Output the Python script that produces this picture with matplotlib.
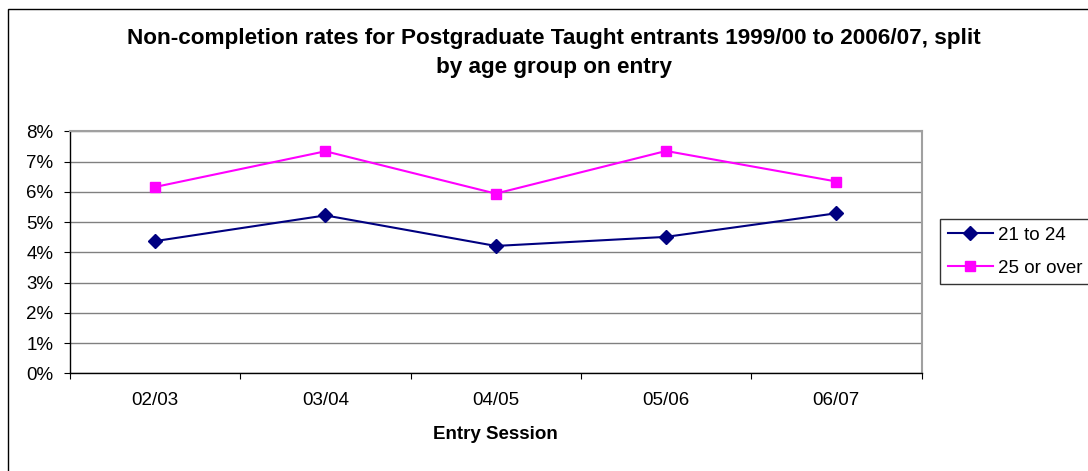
import matplotlib
matplotlib.use("Agg")
import matplotlib.pyplot as plt
from matplotlib.patches import Rectangle
from matplotlib.ticker import FixedLocator, NullFormatter, PercentFormatter

plt.rcParams['font.family'] = ['Liberation Sans', 'DejaVu Sans']

categories = ["02/03", "03/04", "04/05", "05/06", "06/07"]
age_21_24 = [4.37, 5.22, 4.21, 4.51, 5.29]
age_25_over = [6.16, 7.34, 5.94, 7.35, 6.34]
series_names = ["21 to 24", "25 or over"]
title_lines = ["Non-completion rates for Postgraduate Taught entrants 1999/00 to 2006/07, split",
               "by age group on entry"]
xlabel = "Entry Session"

W, H = 1088, 471
fig = plt.figure(figsize=(W / 100, H / 100), dpi=100)

# outer chart frame
fig.patches.append(Rectangle((8 / W, -0.1), 1.2, 1 - 9 / H + 0.1, transform=fig.transFigure,
                             fill=False, edgecolor='black', linewidth=1.0))

ax_top, ax_bot = 131.3, 373.3
ax = fig.add_axes([70 / W, 1 - ax_bot / H, (921.5 - 70) / W, (ax_bot - ax_top) / H])
x = list(range(len(categories)))
ax.plot(x, age_21_24, color='#000080', marker='D', markersize=7.2, linewidth=1.5, label=series_names[0])
ax.plot(x, age_25_over, color='#FF00FF', marker='s', markersize=6.8, linewidth=1.5, label=series_names[1])

ax.set_xlim(-0.5, len(categories) - 0.5)
ax.set_ylim(0, 8)
ax.yaxis.set_major_locator(FixedLocator(range(0, 9)))
ax.yaxis.set_major_formatter(PercentFormatter(decimals=0))
ax.set_xticks([i - 0.5 for i in range(len(categories) + 1)])
ax.xaxis.set_major_formatter(NullFormatter())
ax.set_xticks(x, minor=True)
ax.set_xticklabels(categories, minor=True)
ax.tick_params(axis='x', which='minor', length=0, pad=13.6, labelsize=13.5)
ax.tick_params(axis='x', which='major', length=4, direction='out', color='black')
ax.tick_params(axis='y', length=4, direction='out', labelsize=13.5, pad=7.9)
ax.grid(axis='y', color='#808080', linewidth=1.0)
ax.set_axisbelow(True)
for s in ['top', 'right']:
    ax.spines[s].set_color('#a0a0a0')
    ax.spines[s].set_linewidth(1.5)
for s in ['left', 'bottom']:
    ax.spines[s].set_color('black')
    ax.spines[s].set_linewidth(1.0)

ax.set_xlabel(xlabel, fontsize=13.5, fontweight='bold', va='top')
ax.xaxis.set_label_coords(0.5, (ax_bot - 426) / (ax_bot - ax_top))

for line, base in zip(title_lines, [44, 73]):
    fig.text(554 / W, 1 - base / H, line, ha='center', va='baseline', fontsize=16.2,
             fontweight='bold')

leg = ax.legend(loc='upper left', bbox_to_anchor=(940 / W, 1 - 219 / H),
                bbox_transform=fig.transFigure, frameon=True, fancybox=False,
                edgecolor='black', fontsize=13.5, borderpad=0.4, labelspacing=0.85,
                handlelength=2.45, handletextpad=0.25, borderaxespad=0)
leg.get_frame().set_linewidth(1.0)

fig.savefig("out.png", dpi=100, facecolor='white')
